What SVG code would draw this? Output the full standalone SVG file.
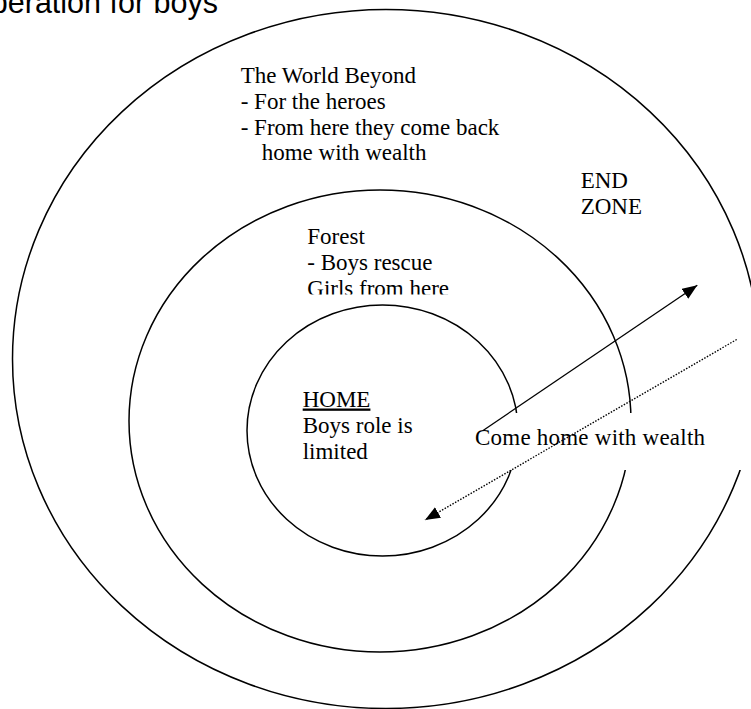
<svg xmlns="http://www.w3.org/2000/svg" width="751" height="709" viewBox="0 0 751 709">
<style>
.ring{fill:none;stroke:#000;stroke-width:1.5}
.t{font-family:"Liberation Serif","Times New Roman",serif;font-size:23px;fill:#000}
.title{font-family:"Liberation Sans",Arial,sans-serif;font-size:30.5px;fill:#000}
.solid{fill:none;stroke:#000;stroke-width:1.3}
.dot{fill:none;stroke:#000;stroke-width:1.4;stroke-dasharray:1.5 1.5}
</style>
<defs>
<marker id="head" markerUnits="userSpaceOnUse" markerWidth="16" markerHeight="13" refX="15" refY="6" orient="auto">
<path d="M0,0 L15,6 L0,12 z" fill="#000" stroke="none"/>
</marker>
<clipPath id="forestClip"><rect x="290" y="215" width="200" height="79.5"/></clipPath>
</defs>
<rect width="751" height="709" fill="#fff"/>
<text class="title" x="218" y="13" text-anchor="end">operation for boys</text>
<g id="world-beyond">
<ellipse class="ring" cx="386" cy="359" rx="373.5" ry="349.5"/>
<text class="t" x="240.7" y="83">The World Beyond</text>
<text class="t" x="240.7" y="108.5">- For the heroes</text>
<text class="t" x="240.7" y="134.5">- From here they come back</text>
<text class="t" x="261.7" y="160">home with wealth</text>
</g>
<g id="forest">
<ellipse class="ring" cx="380" cy="421" rx="251" ry="231"/>
<g clip-path="url(#forestClip)">
<text class="t" x="307.3" y="243.5">Forest</text>
<text class="t" x="307.3" y="269.5">- Boys rescue</text>
<text class="t" x="307.3" y="296">Girls from here</text>
</g>
</g>
<g id="home">
<ellipse class="ring" cx="382.5" cy="430.5" rx="135.5" ry="125.5"/>
<text class="t" x="302.7" y="406.5" text-decoration="underline">HOME</text>
<text class="t" x="302.7" y="433">Boys role is</text>
<text class="t" x="302.7" y="459">limited</text>
</g>
<g id="end-zone">
<text class="t" x="580.7" y="188">END</text>
<text class="t" x="580.7" y="214">ZONE</text>
</g>
<g id="come-home-label">
<rect x="468" y="413" width="290" height="57" fill="#fff"/>
<text class="t" x="475" y="445" textLength="230" lengthAdjust="spacing">Come home with wealth</text>
</g>
<g id="connectors">
<path class="solid" d="M482.7,430.7 L697.3,285.3" marker-end="url(#head)"/>
<path class="dot" d="M736.7,339.5 L425,520" marker-end="url(#head)"/>
</g>
</svg>
